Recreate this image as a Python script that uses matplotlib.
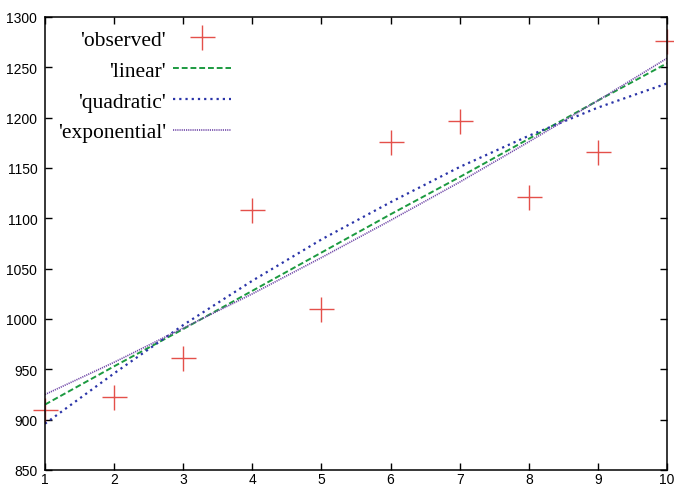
import numpy as np
import matplotlib.pyplot as plt

# values
x = [1, 2, 3, 4, 5, 6, 7, 8, 9, 10]
observed = [910, 923, 961, 1108, 1010, 1176, 1197, 1121, 1166, 1276]
linear = [915, 953, 990, 1028, 1066, 1104, 1141, 1179, 1217, 1254]
quadratic = [896, 946, 994, 1038, 1079, 1116, 1151, 1182, 1210, 1234]
exponential = [925, 957, 991, 1025, 1061, 1098, 1136, 1176, 1217, 1259]

x_ticks = [1, 2, 3, 4, 5, 6, 7, 8, 9, 10]
y_ticks = [850, 900, 950, 1000, 1050, 1100, 1150, 1200, 1250, 1300]

fig = plt.figure(figsize=(6.74, 4.89), dpi=100)
ax = fig.add_axes([45 / 674, 18 / 489, 622 / 674, 453 / 489])

ax.plot(x, observed, linestyle='none', marker='+', markersize=18,
        markeredgewidth=1.0, color='#e4504a', label="'observed'", clip_on=False)
ax.plot(x, linear, linestyle=(0, (3, 1.5)), linewidth=1.4, color='#1c9a40',
        label="'linear'")
ax.plot(x, quadratic, linestyle=(0, (1, 1.8)), linewidth=1.6, color='#2a34a8',
        label="'quadratic'")
ax.plot(x, exponential, linestyle=(0, (0.7, 0.6)), linewidth=1.2, color='#7048a8',
        label="'exponential'")

ax.set_xlim(1, 10)
ax.set_ylim(850, 1300)
ax.set_xticks(x_ticks)
ax.set_yticks(y_ticks)
for s in ax.spines.values():
    s.set_linewidth(1.1)
ax.tick_params(direction='in', length=5, width=1.0, top=True, right=True,
               labelsize=10, colors='black')
ax.tick_params(axis='x', pad=1.5)
ax.tick_params(axis='y', pad=5.5)
for lab in ax.get_xticklabels() + ax.get_yticklabels():
    lab.set_family('Liberation Sans')

ax.legend(loc='upper left', frameon=False, markerfirst=False,
          prop={'family': 'Liberation Serif', 'size': 15.5},
          handlelength=2.7, handletextpad=0.3, labelspacing=0.5,
          borderpad=0, borderaxespad=0.6)

fig.savefig('out.png', dpi=100)
